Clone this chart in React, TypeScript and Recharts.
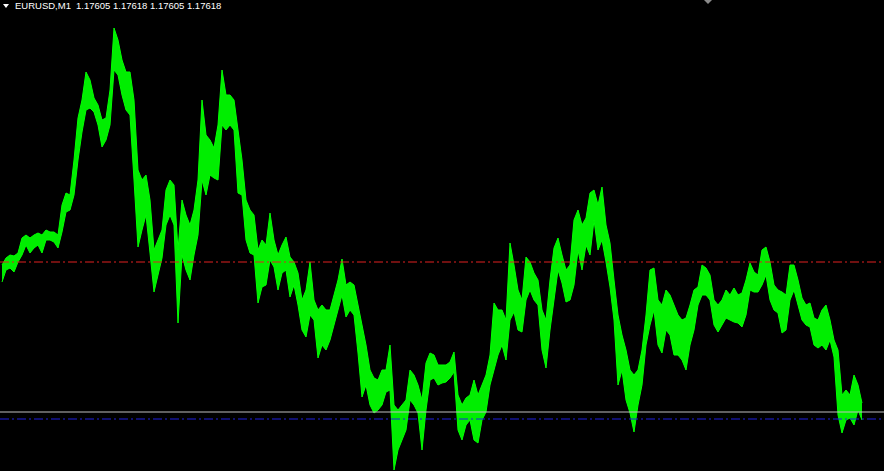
import { Area, ComposedChart, ReferenceLine, XAxis, YAxis } from "recharts";

const symbol = "EURUSD,M1";
const quote = ["1.17605", "1.17618", "1.17605", "1.17618"];

// one entry per 4 minutes of M1 bars, highs and lows
const highs = [
  1.17765, 1.17772, 1.17775, 1.17774, 1.17777, 1.17792, 1.17795, 1.17792, 1.17795, 1.17797,
  1.17795, 1.178, 1.17798, 1.17798, 1.17795, 1.17825, 1.17837, 1.17835, 1.1787, 1.17912,
  1.1793, 1.17958, 1.1795, 1.17932, 1.17925, 1.1791, 1.17912, 1.1794, 1.18002, 1.1799,
  1.1797, 1.17958, 1.17958, 1.1793, 1.1786, 1.1785, 1.17855, 1.1783, 1.1778, 1.1779,
  1.178, 1.1784, 1.1785, 1.17845, 1.1778, 1.1783, 1.17815, 1.17805, 1.1782, 1.1785,
  1.1793, 1.17895, 1.1789, 1.17882, 1.17905, 1.1796, 1.17935, 1.17935, 1.1793, 1.179,
  1.1787, 1.1783, 1.1782, 1.17815, 1.1778, 1.1779, 1.17785, 1.17817, 1.1779, 1.17775,
  1.17785, 1.17793, 1.17773, 1.17768, 1.17757, 1.1773, 1.1774, 1.17768, 1.1773, 1.1772,
  1.17725, 1.1772, 1.1772, 1.17735, 1.1775, 1.17771, 1.17745, 1.17748, 1.17745, 1.17725,
  1.17705, 1.17685, 1.1766, 1.17652, 1.1765, 1.1766, 1.1766, 1.17685, 1.17625, 1.1762,
  1.17625, 1.1763, 1.1766, 1.17655, 1.17645, 1.1763, 1.17667, 1.17677, 1.17675, 1.17665,
  1.17665, 1.17665, 1.17668, 1.17678, 1.17635, 1.17625, 1.17632, 1.17635, 1.1765, 1.17635,
  1.17645, 1.17655, 1.17675, 1.17727, 1.1772, 1.1772, 1.1771, 1.17787, 1.17765, 1.1774,
  1.1773, 1.17773, 1.17768, 1.17757, 1.1775, 1.1772, 1.1771, 1.1775, 1.17782, 1.17792,
  1.17775, 1.1776, 1.17765, 1.1781, 1.1782, 1.17805, 1.17812, 1.17837, 1.1784, 1.17825,
  1.17843, 1.17805, 1.17787, 1.1775, 1.17715, 1.17695, 1.1768, 1.1766, 1.17655, 1.1766,
  1.1768, 1.17715, 1.1776, 1.17762, 1.1773, 1.17725, 1.1774, 1.17735, 1.17725, 1.17715,
  1.1771, 1.17712, 1.17725, 1.1774, 1.17743, 1.17765, 1.17762, 1.17755, 1.1773, 1.17725,
  1.1773, 1.1774, 1.17735, 1.17742, 1.17735, 1.17737, 1.1775, 1.17767, 1.17758, 1.17755,
  1.1778, 1.17783, 1.17768, 1.17745, 1.1774, 1.17738, 1.17735, 1.17765, 1.17765, 1.1775,
  1.17732, 1.17725, 1.17727, 1.17712, 1.1771, 1.1772, 1.17725, 1.1771, 1.1769, 1.1768,
  1.17635, 1.1764, 1.17635, 1.17655, 1.17645, 1.17627,
];

const lows = [
  1.17748, 1.1776, 1.17762, 1.17758, 1.17768, 1.17775, 1.17785, 1.17777, 1.17782, 1.17785,
  1.17777, 1.1779, 1.1779, 1.17788, 1.17782, 1.17798, 1.17818, 1.1782, 1.17835, 1.1787,
  1.17898, 1.1792, 1.17922, 1.17918, 1.17905, 1.17883, 1.1789, 1.17905, 1.1796, 1.17955,
  1.17935, 1.1792, 1.17915, 1.1785, 1.17783, 1.178, 1.17815, 1.17777, 1.17738, 1.17755,
  1.17772, 1.17805, 1.17815, 1.17805, 1.17707, 1.17775, 1.1776, 1.1775, 1.17775, 1.17795,
  1.1785, 1.17835, 1.17855, 1.17852, 1.1785, 1.17905, 1.179, 1.17905, 1.179, 1.17837,
  1.17835, 1.1779, 1.17777, 1.17775, 1.17727, 1.17743, 1.17745, 1.1777, 1.17763, 1.1774,
  1.17757, 1.1776, 1.17733, 1.17745, 1.17725, 1.177, 1.17693, 1.17715, 1.1771, 1.17672,
  1.17685, 1.1768, 1.1769, 1.17705, 1.1772, 1.17735, 1.17713, 1.1772, 1.17715, 1.17677,
  1.17633, 1.17645, 1.17625, 1.17617, 1.1762, 1.17625, 1.17638, 1.1764, 1.1756, 1.1758,
  1.1759, 1.176, 1.1763, 1.17625, 1.17617, 1.1758, 1.1762, 1.1765, 1.17652, 1.17645,
  1.17647, 1.17648, 1.17652, 1.17658, 1.176, 1.1759, 1.17605, 1.1761, 1.1759, 1.17587,
  1.1761, 1.17618, 1.17645, 1.1766, 1.17675, 1.17685, 1.1767, 1.1771, 1.17718, 1.177,
  1.17698, 1.1773, 1.1774, 1.1773, 1.17725, 1.1768, 1.17662, 1.177, 1.1773, 1.1776,
  1.17747, 1.17728, 1.1773, 1.17745, 1.1778, 1.1776, 1.17785, 1.17775, 1.1781, 1.1778,
  1.1779, 1.17768, 1.17743, 1.1771, 1.17645, 1.1766, 1.1763, 1.17617, 1.17598, 1.17625,
  1.17645, 1.17685, 1.17705, 1.1772, 1.17685, 1.17677, 1.177, 1.17695, 1.17675, 1.17675,
  1.1767, 1.1766, 1.17685, 1.177, 1.17725, 1.17735, 1.17735, 1.1773, 1.17705, 1.17698,
  1.17705, 1.17712, 1.1771, 1.17708, 1.17707, 1.17703, 1.17715, 1.1774, 1.17738, 1.17738,
  1.17745, 1.17755, 1.1773, 1.1772, 1.17717, 1.17697, 1.177, 1.1773, 1.1774, 1.17725,
  1.1771, 1.17705, 1.17703, 1.17685, 1.17682, 1.17685, 1.1768, 1.1769, 1.17673, 1.17615,
  1.17597, 1.1761, 1.17612, 1.17605, 1.1762, 1.1761,
];

const levelRed = 1.17768;
const levelBlue = 1.17611;
const bid = 1.17618;

const priceTop = 1.1803;
const priceBottom = 1.17559;

const data = highs.map((high, i) => ({ t: i + 0.5, range: [lows[i], high] }));

export default function App() {
  return (
    <div style={{ position: "relative", width: 884, height: 471, background: "#000" }}>
      <style>{"body{margin:0;background:#000;}"}</style>
      <ComposedChart width={884} height={471} data={data} margin={{ top: 0, right: 0, bottom: 0, left: 0 }}>
        <XAxis dataKey="t" type="number" domain={[0, 221]} hide />
        <YAxis type="number" domain={[priceBottom, priceTop]} hide allowDataOverflow />
        <Area
          dataKey="range"
          type="linear"
          stroke="#00ff00"
          strokeWidth={1}
          fill="#00ee00"
          fillOpacity={1}
          dot={false}
          activeDot={false}
          isAnimationActive={false}
        />
        <ReferenceLine y={levelRed} stroke="#e02020" strokeDasharray="9 3 2 3" />
        <ReferenceLine y={bid} stroke="#c0c0c0" />
        <ReferenceLine y={levelBlue} stroke="#2020e0" strokeDasharray="9 3 2 3" />
      </ComposedChart>
      <svg
        width={884}
        height={20}
        style={{ position: "absolute", left: 0, top: 0, pointerEvents: "none" }}
      >
        <polygon points="3,4 9,4 6,8" fill="#fff" />
        <text x={15} y={9} fill="#fff" fontFamily="Liberation Sans, Arial, sans-serif" fontSize={9.5}>
          {symbol}
        </text>
        <text x={76} y={9} fill="#fff" fontFamily="Liberation Sans, Arial, sans-serif" fontSize={9.5}>
          {quote.join(" ")}
        </text>
        <polygon points="704,0 712,0 708,4" fill="#8a8a8a" />
      </svg>
    </div>
  );
}
